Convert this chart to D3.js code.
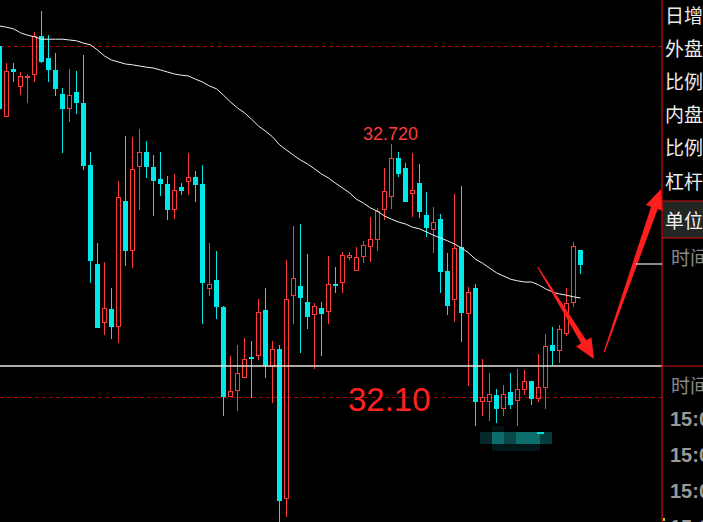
<!DOCTYPE html>
<html><head><meta charset="utf-8">
<script src="https://cdn.jsdelivr.net/npm/d3@7"></script>
<style>html,body{margin:0;padding:0;background:#000;overflow:hidden}</style>
</head><body>
<script>
// ---- data ----
const openP = [32.965,32.788,32.908,32.862,32.885,32.892,32.990,32.935,32.905,32.845,
32.808,32.850,32.822,32.668,32.420,32.272,32.308,32.262,32.578,32.452,
32.662,32.700,32.662,32.632,32.620,32.555,32.612,32.625,32.638,32.620,
32.358,32.380,32.312,32.088,32.102,32.135,32.188,32.190,32.305,32.162,
32.208,31.832,32.340,32.365,32.325,32.292,32.310,32.300,32.370,32.372,
32.435,32.402,32.438,32.462,32.480,32.555,32.588,32.685,32.660,32.595,
32.622,32.542,32.505,32.532,32.402,32.330,32.462,32.295,32.360,32.075,
32.075,32.092,32.058,32.100,32.078,32.105,32.128,32.082,32.110,32.218,
32.202,32.245,32.322,32.455];
const closeP = [32.808,32.902,32.900,32.890,32.890,32.990,32.925,32.905,32.858,32.808,
32.842,32.822,32.665,32.428,32.260,32.310,32.262,32.588,32.452,32.658,
32.700,32.662,32.628,32.620,32.555,32.605,32.602,32.638,32.618,32.372,
32.370,32.312,32.088,32.102,32.148,32.182,32.182,32.300,32.165,32.208,
31.828,32.332,32.385,32.335,32.288,32.315,32.295,32.370,32.365,32.442,
32.442,32.438,32.468,32.482,32.552,32.602,32.685,32.645,32.575,32.605,
32.550,32.510,32.525,32.400,32.315,32.460,32.298,32.350,32.075,32.088,
32.095,32.058,32.095,32.068,32.108,32.128,32.082,32.112,32.215,32.202,
32.258,32.322,32.465,32.418];
const highP = [32.970,32.922,32.922,32.900,32.895,33.000,33.052,32.992,32.948,32.860,
32.908,32.902,32.942,32.700,32.472,32.425,32.360,32.628,32.740,32.738,
32.758,32.728,32.692,32.700,32.640,32.645,32.622,32.698,32.652,32.668,
32.472,32.452,32.315,32.190,32.218,32.235,32.228,32.332,32.360,32.228,
32.218,32.430,32.515,32.520,32.445,32.322,32.325,32.440,32.412,32.450,
32.450,32.462,32.478,32.538,32.560,32.660,32.720,32.700,32.672,32.698,
32.670,32.600,32.562,32.545,32.448,32.595,32.615,32.362,32.370,32.182,
32.148,32.108,32.118,32.148,32.158,32.155,32.128,32.195,32.245,32.262,
32.268,32.360,32.475,32.455];
const lowP = [32.800,32.788,32.875,32.842,32.822,32.875,32.922,32.875,32.840,32.698,
32.775,32.795,32.655,32.372,32.260,32.242,32.232,32.222,32.415,32.410,
32.555,32.635,32.540,32.590,32.530,32.532,32.592,32.592,32.575,32.270,
32.340,32.282,32.040,32.088,32.052,32.135,32.085,32.180,32.135,32.072,
31.770,31.788,32.270,32.198,32.258,32.158,32.190,32.270,32.348,32.348,
32.430,32.402,32.422,32.425,32.452,32.530,32.558,32.638,32.575,32.538,
32.535,32.488,32.448,32.348,32.292,32.275,32.225,32.115,32.015,32.040,
32.028,32.022,32.040,32.058,32.015,32.092,32.068,32.075,32.058,32.165,
32.172,32.240,32.312,32.395];
const maP = [33.015,33.012,33.008,32.998,32.992,32.988,32.982,32.982,32.982,32.982,
32.980,32.978,32.972,32.968,32.955,32.940,32.930,32.925,32.920,32.918,
32.915,32.912,32.910,32.905,32.900,32.895,32.892,32.890,32.882,32.875,
32.865,32.858,32.842,32.825,32.810,32.798,32.782,32.765,32.752,32.738,
32.718,32.705,32.692,32.680,32.670,32.658,32.645,32.635,32.622,32.610,
32.598,32.582,32.572,32.560,32.552,32.540,32.532,32.525,32.520,32.512,
32.508,32.500,32.492,32.485,32.478,32.470,32.460,32.448,32.432,32.422,
32.410,32.398,32.390,32.382,32.378,32.375,32.375,32.368,32.358,32.350,
32.345,32.342,32.338,32.335];
const dashedLevels = [32.965, 32.0875];
const solidLevel = 32.165;
const highLabel = "32.720";
const highLabelIndex = 56;
const bigLabel = "32.10";
const panelLabels = ["日增","外盘","比例","内盘","比例","杠杆"];
const unitLabel = "单位";
const timeLabel = "时间";
const timeRows = ["15:00","15:00","15:00","15:00"];

// ---- drawing ----
const W = 703, H = 522, PANEL_X = 662;
const svg = d3.select("body").append("svg").attr("width", W).attr("height", H)
  .style("background", "#000").style("display","block");

const x = d3.scaleLinear().domain([0, openP.length - 1]).range([-0.5, -0.5 + 7 * (openP.length - 1)]);
const y = d3.scaleLinear().domain([31.775, 33.08]).range([H, 0]);

svg.append("clipPath").attr("id","chartClip").append("rect").attr("x",0).attr("y",0).attr("width",PANEL_X).attr("height",H);
const g = svg.append("g").attr("clip-path","url(#chartClip)");

const RED = "#ff3a3a", CYAN = "#00e8e8";

// reference lines
g.selectAll("line.dash").data(dashedLevels).enter().append("line")
  .attr("x1", 0).attr("x2", PANEL_X).attr("y1", d => Math.round(y(d)) + 0.5).attr("y2", d => Math.round(y(d)) + 0.5)
  .attr("stroke", "#b00000").attr("stroke-width", 1).attr("stroke-dasharray", "4,3");

const candles = openP.map((o, i) => ({i, o, c: closeP[i], h: highP[i], l: lowP[i]}));

const cg = g.append("g").attr("shape-rendering","crispEdges");
const cs = cg.selectAll("g.c").data(candles).enter().append("g");
cs.each(function(d) {
  const s = d3.select(this);
  const cx = x(d.i);
  const up = d.c >= d.o;
  const top = y(Math.max(d.o, d.c)), bot = y(Math.min(d.o, d.c));
  const col = up ? RED : CYAN;
  if (up) {
    s.append("line").attr("x1", cx).attr("x2", cx).attr("y1", y(d.h)).attr("y2", top).attr("stroke", col);
    s.append("line").attr("x1", cx).attr("x2", cx).attr("y1", bot).attr("y2", y(d.l)).attr("stroke", col);
    s.append("rect").attr("x", cx - 2).attr("y", top + 0.5).attr("width", 4).attr("height", Math.max(bot - top - 1, 1))
      .attr("fill", "none").attr("stroke", col).attr("stroke-width", 1);
  } else {
    s.append("line").attr("x1", cx).attr("x2", cx).attr("y1", y(d.h)).attr("y2", y(d.l)).attr("stroke", col);
    s.append("rect").attr("x", cx - 2.5).attr("y", top).attr("width", 5).attr("height", Math.max(bot - top, 2))
      .attr("fill", col);
  }
});

// moving average
g.append("path").datum(maP)
  .attr("d", d3.line().x((d, i) => x(i)).y(d => y(d)))
  .attr("fill", "none").attr("stroke", "#f2f2f2").attr("stroke-width", 1);

// solid white level line
svg.append("line").attr("x1", 0).attr("x2", PANEL_X).attr("y1", y(solidLevel)).attr("y2", y(solidLevel))
  .attr("stroke", "#e6e0d8").attr("stroke-width", 1.3);

// labels
svg.append("text").attr("x", x(highLabelIndex) - 1).attr("y", y(highP[highLabelIndex]) - 4)
  .attr("text-anchor","middle").attr("fill", "#ff3c3c")
  .style("font-family","'Liberation Sans', Arial, sans-serif").style("font-size","18px").text(highLabel);
svg.append("text").attr("x", 348).attr("y", y(dashedLevels[1]) + 14)
  .attr("fill", "#ff2020")
  .style("font-family","'Liberation Sans', Arial, sans-serif").style("font-size","33px").text(bigLabel);

// blurred mosaic patch
const mosaic = [
  [480,432,12,12,"#06282a"],[492,432,12,12,"#0d6c6c"],[504,432,12,12,"#0a4848"],
  [516,432,24,12,"#0d6e6e"],[540,432,12,12,"#073c3c"],[492,444,48,7,"#031818"],[492,426,12,6,"#021212"],
  [537,432,7,2,"#00dede"]
];
svg.append("g").selectAll("rect").data(mosaic).enter().append("rect")
  .attr("x", d => d[0]).attr("y", d => d[1]).attr("width", d => d[2]).attr("height", d => d[3]).attr("fill", d => d[4]);

// red arrows
const ARROW = "#ff1e1e";
svg.append("polygon").attr("points", "538,266.5 586.3,340.3 591.4,337.2 594,359 576,346.4 581.1,343.3 537.4,267.4").attr("fill", ARROW);
svg.append("polygon").attr("points", "604.8,352.2 657.7,209.1 662.9,210.9 661,189 645.9,204.9 651.1,206.7 603.6,351.8").attr("fill", ARROW);

// right panel
const P = svg.append("g");
P.append("rect").attr("x", PANEL_X + 1).attr("y", 201).attr("width", W - PANEL_X).attr("height", 37).attr("fill", "#232723");
P.append("line").attr("x1", PANEL_X).attr("x2", PANEL_X).attr("y1", 0).attr("y2", H).attr("stroke", "#d01010").attr("stroke-width", 1.2);
[201, 238, 366].forEach(v => P.append("line").attr("x1", PANEL_X).attr("x2", W).attr("y1", v).attr("y2", v).attr("stroke", "#d01010").attr("stroke-width", 1.2));
P.append("line").attr("x1", 636).attr("x2", PANEL_X).attr("y1", 264).attr("y2", 264).attr("stroke", "#e8e8e8").attr("stroke-width", 1.2);

const cjk = "'Noto Sans CJK SC', sans-serif";
P.selectAll("text.row").data(panelLabels).enter().append("text")
  .attr("x", 665).attr("y", (d, k) => 16 + 33.2 * k).attr("dy", "0.35em")
  .attr("fill", "#ececec").style("font-family", cjk).style("font-size", "19px").text(d => d);
P.append("text").attr("x", 665).attr("y", 221).attr("dy","0.35em").attr("fill", "#f2f2f2")
  .style("font-family", cjk).style("font-size", "19px").text(unitLabel);
[258, 386].forEach(v => P.append("text").attr("x", 671).attr("y", v).attr("dy","0.35em").attr("fill", "#8a8a8a")
  .style("font-family", cjk).style("font-size", "19px").text(timeLabel));
P.selectAll("text.t").data(timeRows).enter().append("text")
  .attr("x", 670).attr("y", (d, k) => 419 + 36 * k).attr("dy","0.36em")
  .attr("fill", "#9a9a9a").style("font-family","'Liberation Sans', Arial, sans-serif").style("font-weight","bold")
  .style("font-size","20px").text(d => d);
P.append("rect").attr("x", 663).attr("y", 518).attr("width", 2).attr("height", 3).attr("fill", "#e0d000");
</script>
</body></html>
